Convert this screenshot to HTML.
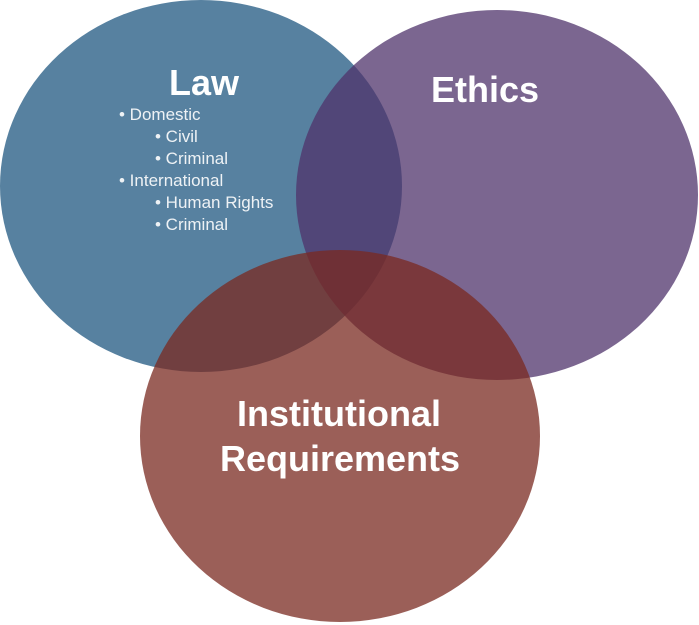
<!DOCTYPE html>
<html><head><meta charset="utf-8"><style>
body{margin:0;background:#fff;}
svg{display:block;font-family:"Liberation Sans",sans-serif;}
</style></head><body>
<svg width="699" height="625" viewBox="0 0 699 625">
<ellipse cx="201" cy="186" rx="201" ry="186" fill="#5781a0"/>
<ellipse cx="497" cy="195" rx="201" ry="185" fill="rgb(79,51,107)" fill-opacity="0.75"/>
<ellipse cx="340" cy="436" rx="200" ry="186" fill="rgb(121,41,32)" fill-opacity="0.75"/>
<g fill="#fff" font-weight="bold">
<text x="204" y="95" font-size="36" text-anchor="middle">Law</text>
<text x="485" y="102" font-size="36" text-anchor="middle">Ethics</text>
<text x="339" y="426" font-size="36" text-anchor="middle">Institutional</text>
<text x="340" y="471" font-size="36" text-anchor="middle">Requirements</text>
</g>
<g fill="#eef2f5" font-size="17">
<text x="119" y="120">• Domestic</text>
<text x="155" y="142">• Civil</text>
<text x="155" y="164">• Criminal</text>
<text x="119" y="186">• International</text>
<text x="155" y="208">• Human Rights</text>
<text x="155" y="230">• Criminal</text>
</g>
</svg>
</body></html>
